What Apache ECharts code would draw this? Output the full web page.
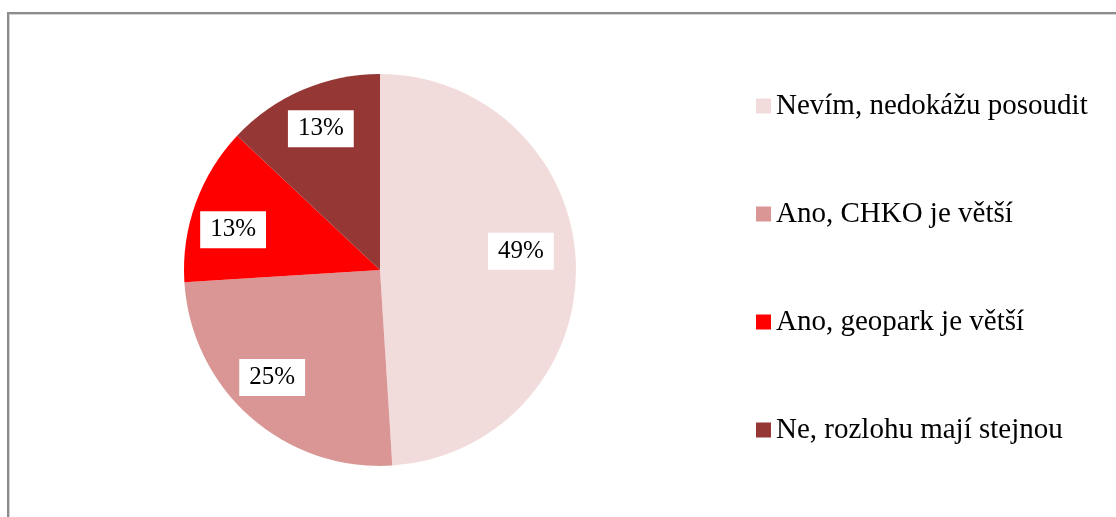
<!DOCTYPE html>
<html>
<head>
<meta charset="utf-8">
<script src="https://cdn.jsdelivr.net/npm/echarts@6/dist/echarts.min.js"></script>
<style>
  html, body { margin: 0; padding: 0; background: #fff; overflow: hidden; }
  #frame {
    position: absolute; left: 7px; top: 12px; width: 1200px; height: 600px;
    border-top: 2px solid #8c8c8c; border-left: 2px solid #8c8c8c;
    box-shadow: inset 1px 1px 0 #d4d4d4;
  }
  #chart { position: absolute; left: 0; top: 0; width: 1116px; height: 517px; }
</style>
</head>
<body>
<div id="frame"></div>
<div id="chart"></div>
<script>
// data
const categories = [
  "Nevím, nedokážu posoudit",
  "Ano, CHKO je větší",
  "Ano, geopark je větší",
  "Ne, rozlohu mají stejnou",
];
const values = [49, 25, 13, 13];
const colors = ["#F2DCDB", "#D99694", "#FF0000", "#953735"];
// posun popisků oproti středu výseče (jen vzhled)
const labelShift = [[-13, -14], [-6, -8], [-2, 12], [2, 0]];

const serif = "'Liberation Serif', 'Times New Roman', serif";

const pieData = categories.map((name, i) => ({
  name: name,
  value: values[i],
  itemStyle: { color: colors[i] },
}));

const chart = echarts.init(document.getElementById("chart"));
chart.setOption({
  animation: false,
  legend: {
    orient: "vertical",
    left: 751,
    top: 86,
    icon: "rect",
    itemWidth: 15,
    itemHeight: 15,
    itemGap: 78,
    data: categories,
    textStyle: {
      fontFamily: serif,
      fontSize: 29,
      lineHeight: 30,
      color: "#000",
    },
  },
  series: [
    {
      //koláč
      type: "pie",
      center: [380, 270],
      radius: 196,
      startAngle: 90,
      clockwise: true,
      label: { show: false },
      labelLine: { show: false },
      emphasis: { scale: false },
      data: pieData,
    },
    {
      //jen popisky (průhledné výseče)
      type: "pie",
      silent: true,
      legendHoverLink: false,
      center: [380, 270],
      radius: [106, 196],
      startAngle: 90,
      clockwise: true,
      itemStyle: { color: "rgba(0,0,0,0)" },
      label: {
        show: true,
        position: "inside",
        formatter: "{c}%",
        fontFamily: serif,
        fontSize: 25,
        color: "#000",
        backgroundColor: "#fff",
        padding: [6, 10, 6, 10],
      },
      labelLine: { show: false },
      data: categories.map((name, i) => ({
        name: name,
        value: values[i],
        label: { offset: labelShift[i] },
      })),
    },
  ],
});
</script>
</body>
</html>
